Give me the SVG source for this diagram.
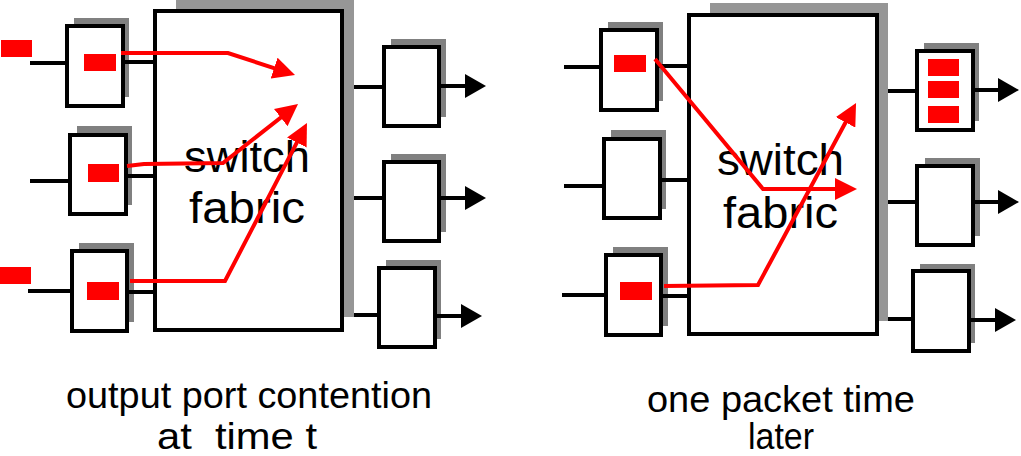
<svg xmlns="http://www.w3.org/2000/svg" width="1021" height="456" viewBox="0 0 1021 456">
<style>
.box{fill:#fff;stroke:#000;stroke-width:4}
.sh{fill:#808080}
.fsh{fill:#969696}
.pk{fill:#f00}
.ln{stroke:#000;stroke-width:4;fill:none}
.out{stroke:#000;stroke-width:4;fill:none;marker-end:url(#ah)}
.red{stroke:#f00;stroke-width:4;fill:none;stroke-linejoin:miter;marker-end:url(#rh)}
.t{font-family:"Liberation Sans",Arial,Helvetica,sans-serif;fill:#000}
.big{font-size:44px}
.cap{font-size:37px}
</style>
<defs>
<marker id="ah" markerUnits="userSpaceOnUse" markerWidth="21" markerHeight="24" viewBox="0 0 21 24" refX="15" refY="12" orient="auto">
<path d="M0,0 L21,12 L0,24 Z" fill="#000"/>
</marker>
<marker id="rh" markerUnits="userSpaceOnUse" markerWidth="22" markerHeight="22" viewBox="0 0 22 22" refX="16" refY="11" orient="auto">
<path d="M0,0 L22,11 L0,22 Z" fill="#f00"/>
</marker>
</defs>
<rect width="1021" height="456" fill="#fff"/>

<!-- left diagram -->
<g id="left-in-1">
<rect class="sh" x="74" y="18" width="55" height="79"/>
<rect class="box" x="67" y="26" width="56" height="80"/>
<rect class="pk" x="84" y="54" width="32" height="17"/>
<rect class="pk" x="1" y="40" width="31" height="17"/>
</g>
<g id="left-in-2">
<rect class="sh" x="77" y="126" width="55" height="79"/>
<rect class="box" x="70" y="135" width="56" height="79"/>
<rect class="pk" x="88" y="164" width="31" height="18"/>
</g>
<g id="left-in-3">
<rect class="sh" x="79" y="243" width="55" height="79"/>
<rect class="box" x="72" y="251" width="55" height="80"/>
<rect class="pk" x="87" y="282" width="32" height="18"/>
<rect class="pk" x="0" y="267" width="31" height="17"/>
</g>
<g id="left-fabric">
<rect class="fsh" x="176" y="0" width="178" height="317"/>
<rect class="box" x="155" y="11" width="187" height="319"/>
<text class="t big" x="184" y="172" textLength="126" lengthAdjust="spacingAndGlyphs">switch</text>
<text class="t big" x="189" y="223" textLength="116" lengthAdjust="spacingAndGlyphs">fabric</text>
</g>
<g id="left-out-1">
<rect class="sh" x="391" y="39" width="55" height="78"/>
<rect class="box" x="384" y="47" width="55" height="79"/>
</g>
<g id="left-out-2">
<rect class="sh" x="391" y="154" width="55" height="78"/>
<rect class="box" x="384" y="162" width="55" height="79"/>
</g>
<g id="left-out-3">
<rect class="sh" x="386" y="260" width="55" height="79"/>
<rect class="box" x="379" y="268" width="56" height="79"/>
</g>
<text class="t cap" x="66" y="408" textLength="366" lengthAdjust="spacingAndGlyphs">output port contention</text>
<text class="t cap" x="157" y="449" textLength="160" lengthAdjust="spacingAndGlyphs" xml:space="preserve" style="white-space:pre">at  time t</text>

<!-- right diagram -->
<g id="right-in-1">
<rect class="sh" x="608" y="22" width="55" height="79"/>
<rect class="box" x="601" y="30" width="56" height="80"/>
<rect class="pk" x="614" y="55" width="32" height="17"/>
</g>
<g id="right-in-2">
<rect class="sh" x="611" y="130" width="55" height="79"/>
<rect class="box" x="604" y="139" width="56" height="79"/>
</g>
<g id="right-in-3">
<rect class="sh" x="613" y="247" width="55" height="79"/>
<rect class="box" x="606" y="255" width="55" height="80"/>
<rect class="pk" x="620" y="282" width="32" height="18"/>
</g>
<g id="right-fabric">
<rect class="fsh" x="710" y="3" width="178" height="318"/>
<rect class="box" x="689" y="15" width="188" height="319"/>
<text class="t big" x="717" y="175" textLength="127" lengthAdjust="spacingAndGlyphs">switch</text>
<text class="t big" x="723" y="228" textLength="115" lengthAdjust="spacingAndGlyphs">fabric</text>
</g>
<g id="right-out-1">
<rect class="sh" x="924" y="43" width="55" height="78"/>
<rect class="box" x="917" y="51" width="56" height="79"/>
<rect class="pk" x="928" y="59" width="31" height="17"/>
<rect class="pk" x="928" y="81" width="31" height="17"/>
<rect class="pk" x="928" y="106" width="31" height="17"/>
</g>
<g id="right-out-2">
<rect class="sh" x="925" y="158" width="55" height="78"/>
<rect class="box" x="917" y="166" width="56" height="79"/>
</g>
<g id="right-out-3">
<rect class="sh" x="920" y="264" width="55" height="79"/>
<rect class="box" x="913" y="271" width="56" height="80"/>
</g>
<text class="t cap" x="647" y="412" textLength="268" lengthAdjust="spacingAndGlyphs">one packet time</text>
<text class="t cap" x="748" y="449" textLength="66" lengthAdjust="spacingAndGlyphs">later</text>

<g id="connectors">
<!-- left black lines -->
<path class="ln" d="M30,63 H65 M30,181 H68 M28,291 H70"/>
<path class="ln" d="M125,62 H153 M128,176 H153 M129,292 H153"/>
<path class="ln" d="M354,87 H382 M354,198 H382 M354,315 H377"/>
<path class="out" d="M441,86 H480"/>
<path class="out" d="M441,198 H480"/>
<path class="out" d="M437,316 H476"/>
<!-- right black lines -->
<path class="ln" d="M564,67 H599 M564,186 H602 M562,295 H604"/>
<path class="ln" d="M659,66 H687 M662,180 H687 M663,296 H687"/>
<path class="ln" d="M888,91 H915 M888,202 H915 M888,319 H911"/>
<path class="out" d="M975,90 H1013"/>
<path class="out" d="M975,202 H1013"/>
<path class="out" d="M971,320 H1010"/>
<!-- red packet paths -->
<path class="red" d="M121,53 L228,53 L289.3,73.1"/>
<path class="red" d="M127,166 L144,164 L223,163 L293.3,107.7"/>
<path class="red" d="M130,281 L225,281 L304.2,128.3"/>
<path class="red" d="M655,59 L763,189 L851,189"/>
<path class="red" d="M664,286 L758,285 L853.2,108.3"/>
</g>
</svg>
